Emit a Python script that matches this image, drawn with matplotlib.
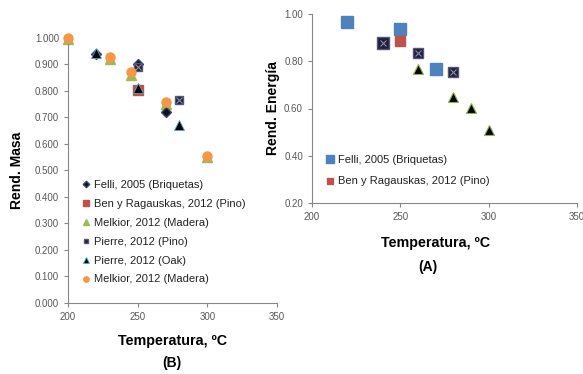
import matplotlib
matplotlib.use("Agg")
import matplotlib.pyplot as plt

plt.rcParams['font.family'] = ['Liberation Sans', 'DejaVu Sans']

# ---- Data: panel (B) Rend. Masa ----
felli_T = [220, 250, 270]
felli_m = [0.940, 0.900, 0.720]
ben_T = [250]
ben_m = [0.805]
melk_tri_T = [200, 230, 245, 270, 300]
melk_tri_m = [0.995, 0.922, 0.862, 0.752, 0.550]
pierre_pino_T = [250, 280]
pierre_pino_m = [0.890, 0.765]
pierre_oak_T = [220, 250, 280]
pierre_oak_m = [0.945, 0.810, 0.670]
melk_circ_T = [200, 230, 245, 270, 300]
melk_circ_m = [1.000, 0.928, 0.870, 0.758, 0.556]

# ---- Data: panel (A) Rend. Energía ----
felliA_T = [220, 250, 270]
felliA_e = [0.966, 0.935, 0.767]
benA_T = [250]
benA_e = [0.887]
pinoA_T = [240, 260, 280]
pinoA_e = [0.876, 0.834, 0.756]
oakA_T = [260, 280, 290, 300]
oakA_e = [0.766, 0.647, 0.601, 0.509]

labels_B = ["Felli, 2005 (Briquetas)", "Ben y Ragauskas, 2012 (Pino)",
            "Melkior, 2012 (Madera)", "Pierre, 2012 (Pino)",
            "Pierre, 2012 (Oak)", "Melkior, 2012 (Madera)"]
labels_A = ["Felli, 2005 (Briquetas)", "Ben y Ragauskas, 2012 (Pino)"]

xticks = [200, 250, 300, 350]
yticksB = [0.0, 0.1, 0.2, 0.3, 0.4, 0.5, 0.6, 0.7, 0.8, 0.9, 1.0]
yticksA = [0.2, 0.4, 0.6, 0.8, 1.0]

BLUE = '#4f81bd'
RED = '#c0504d'
GREEN = '#9bbb59'
ORANGE = '#f79646'
NAVY = '#1f1f3a'
TEAL = '#4bacc6'
GRAY = '#595959'
SPINE = '#868686'

fig = plt.figure(figsize=(5.83, 3.74), dpi=100)
axB = fig.add_axes([68/583, 1-302.7/374, (277-68)/583, (302.7-38)/374])
axA = fig.add_axes([312/583, 1-203/374, (577-312)/583, (203-14)/374])


def style(ax):
    for s in ['top', 'right']:
        ax.spines[s].set_visible(False)
    for s in ['left', 'bottom']:
        ax.spines[s].set_color(SPINE)
        ax.spines[s].set_linewidth(0.8)
    ax.tick_params(axis='both', colors=SPINE, labelcolor=GRAY, labelsize=7,
                   length=3, width=0.8, direction='out')
    ax.set_facecolor('none')


# Panel B
ms = 6.5
kw = dict(ls='none', clip_on=False)
h_mt, = axB.plot(melk_tri_T, melk_tri_m, marker='^', ms=ms, color=GREEN,
                 mec=GREEN, zorder=2, **kw)
h_ben, = axB.plot(ben_T, ben_m, marker='s', ms=ms, color=RED, mec=RED,
                  zorder=2, **kw)
h_fel, = axB.plot(felli_T, felli_m, marker='D', ms=5.5, color='#111122',
                  mec='#3a4a6a', zorder=3, **kw)
h_pp, = axB.plot(pierre_pino_T, pierre_pino_m, marker='s', ms=6, color=NAVY,
                 mec='#555577', zorder=4, **kw)
axB.plot(pierre_pino_T, pierre_pino_m, marker='x', ms=4, color='#8a8aaa',
         mew=0.8, zorder=5, **kw)
h_po, = axB.plot(pierre_oak_T, pierre_oak_m, marker='^', ms=ms, color='#050505',
                 mec=TEAL, mew=0.6, zorder=4, **kw)
h_mc, = axB.plot(melk_circ_T, melk_circ_m, marker='o', ms=ms, color=ORANGE,
                 mec=ORANGE, zorder=5, **kw)

axB.set_xlim(200, 350)
axB.set_ylim(0, 1.0)
axB.set_xticks(xticks)
axB.set_yticks(yticksB)
axB.set_yticklabels([f"{v:.3f}" for v in yticksB])
style(axB)
axB.set_ylabel("Rend. Masa", fontsize=10, fontweight='bold', labelpad=8)
axB.set_xlabel("Temperatura, ºC", fontsize=10.3, fontweight='bold', labelpad=9)
fig.text(172/583, 1-363/374, "(B)", ha='center', va='center', fontsize=10,
         fontweight='bold')

legB = axB.legend([h_fel, h_ben, h_mt, h_pp, h_po, h_mc], labels_B,
                  loc='lower left', bbox_to_anchor=(0.05, 0.052), frameon=False,
                  fontsize=8, markerscale=0.6, handlelength=0.6,
                  handletextpad=0.4, labelspacing=0.8, borderaxespad=0)
for t in legB.get_texts():
    t.set_color('#222222')

# Panel A
h_fA, = axA.plot(felliA_T, felliA_e, marker='s', ms=9, color=BLUE, mec=BLUE,
                 zorder=3, **kw)
h_bA, = axA.plot(benA_T, benA_e, marker='s', ms=6.5, color=RED, mec=RED,
                 zorder=3, **kw)
axA.plot(pinoA_T[:1], pinoA_e[:1], marker='s', ms=8.5, color=NAVY,
         mec='#555577', zorder=3, **kw)
axA.plot(pinoA_T[1:], pinoA_e[1:], marker='s', ms=6.5, color=NAVY,
         mec='#555577', zorder=3, **kw)
axA.plot(pinoA_T, pinoA_e, marker='x', ms=4.5, color='#8a8aaa',
         mew=0.8, zorder=4, **kw)
axA.plot(oakA_T, oakA_e, marker='^', ms=7.5, color='#050505',
         mec='#8fb050', mew=0.8, zorder=3, **kw)

axA.set_xlim(200, 350)
axA.set_ylim(0.2, 1.0)
axA.set_xticks(xticks)
axA.set_yticks(yticksA)
axA.set_yticklabels([f"{v:.2f}" for v in yticksA])
style(axA)
axA.set_ylabel("Rend. Energía", fontsize=10, fontweight='bold', labelpad=3)
axA.set_xlabel("Temperatura, ºC", fontsize=10.3, fontweight='bold')
axA.xaxis.set_label_coords(0.465, -0.175)
fig.text(428/583, 1-267/374, "(A)", ha='center', va='center', fontsize=10,
         fontweight='bold')
legA = axA.legend([h_fA, h_bA], labels_A, loc='lower left',
                  bbox_to_anchor=(0.04, 0.064), frameon=False,
                  fontsize=8, markerscale=0.6, handlelength=0.6,
                  handletextpad=0.4, labelspacing=1.0, borderaxespad=0)
for t in legA.get_texts():
    t.set_color('#222222')

fig.savefig("out.png", dpi=100)
